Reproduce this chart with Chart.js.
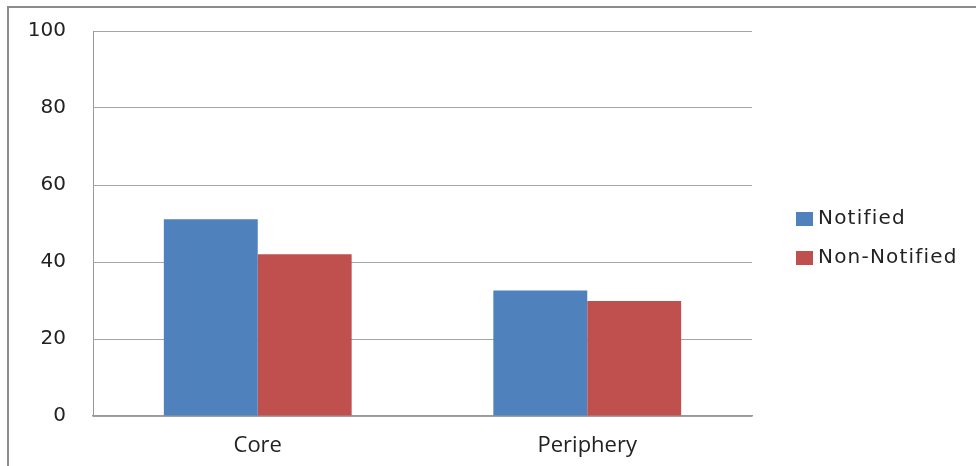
<!DOCTYPE html>
<html>
<head>
<meta charset="utf-8">
<script src="https://cdn.jsdelivr.net/npm/chart.js@4"></script>
<style>
  html, body { margin: 0; padding: 0; background: #ffffff; }
  #wrap { width: 976px; height: 466px; }
</style>
</head>
<body>
<div id="wrap"><canvas id="chart" width="976" height="466"></canvas></div>
<script>
// Survey shares by zone
const categories = ['Core', 'Periphery'];
const seriesNames = ['Notified', 'Non-Notified'];
const notified = [51.1, 32.6];
const nonNotified = [42.0, 29.9];
const yTicks = [0, 20, 40, 60, 80, 100];

const colors = ['#4F81BD', '#C0504D'];

// Outer frame around the whole figure
const framePlugin = {
  id: 'frame',
  beforeDraw(chart) {
    const ctx = chart.ctx;
    ctx.save();
    ctx.fillStyle = '#ffffff';
    ctx.fillRect(0, 0, chart.width, chart.height);
    ctx.strokeStyle = '#8c8c8c';
    ctx.lineWidth = 2;
    ctx.strokeRect(8, 7, chart.width + 20, chart.height + 20);
    ctx.restore();
  }
};

// Legend on the right, built from the dataset labels and colours
const sideLegend = {
  id: 'sideLegend',
  afterDraw(chart) {
    const ctx = chart.ctx;
    const x = 796, y0 = 219, gap = 39;
    ctx.save();
    ctx.font = '20px "DejaVu Sans"';
    ctx.textBaseline = 'middle';
    ctx.textAlign = 'left';
    if ('letterSpacing' in ctx) ctx.letterSpacing = '1.2px';
    chart.data.datasets.forEach((ds, i) => {
      const y = y0 + i * gap;
      ctx.fillStyle = ds.backgroundColor;
      ctx.fillRect(x, y - 7, 17, 14);
      ctx.fillStyle = '#222222';
      ctx.fillText(ds.label, x + 22, y);
    });
    ctx.restore();
  }
};

new Chart(document.getElementById('chart'), {
  type: 'bar',
  data: {
    labels: categories,
    datasets: [
      { label: seriesNames[0], data: notified, backgroundColor: colors[0] },
      { label: seriesNames[1], data: nonNotified, backgroundColor: colors[1] }
    ]
  },
  options: {
    responsive: false,
    animation: false,
    devicePixelRatio: 1,
    layout: { padding: { top: 31, right: 224, left: 0, bottom: 0 } },
    datasets: { bar: { barPercentage: 1, categoryPercentage: 0.57 } },
    plugins: { legend: { display: false }, tooltip: { enabled: false } },
    scales: {
      x: {
        grid: { display: false, drawTicks: false },
        border: { display: true, color: '#9a9a9a', width: 1.5 },
        ticks: { color: '#222222', padding: 17, font: { family: '"Open Sans"', size: 22 } },
        afterFit(scale) { scale.height = 50; }
      },
      y: {
        min: 0,
        max: 100,
        afterBuildTicks(scale) { scale.ticks = yTicks.map(v => ({ value: v })); },
        grid: { color: '#a6a6a6', lineWidth: 1, drawTicks: false },
        border: { display: true, color: '#9a9a9a', width: 1 },
        ticks: { color: '#222222', padding: 27, font: { family: '"DejaVu Sans"', size: 20 } },
        afterFit(scale) {
          scale.width = 93;
          scale.paddingTop = 12;
          scale.paddingBottom = 12;
        }
      }
    }
  },
  plugins: [framePlugin, sideLegend]
});
</script>
</body>
</html>
